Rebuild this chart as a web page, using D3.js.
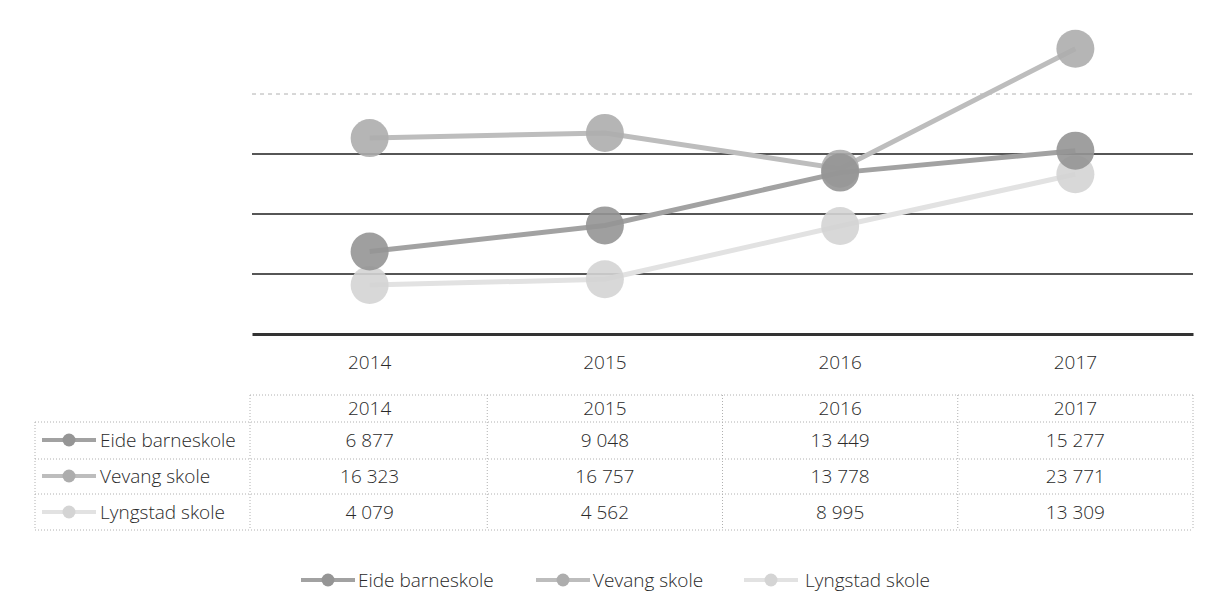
<!DOCTYPE html>
<html>
<head>
<meta charset="utf-8">
<script src="https://cdn.jsdelivr.net/npm/d3@7"></script>
<style>
  body { margin: 0; background: #fff; }
  text { font-family: "Open Sans", sans-serif; font-weight: 300; fill: #2a2a2a; font-size: 19px; }
</style>
</head>
<body>
<div id="chart"></div>
<script>
// data
let years = ["2014", "2015", "2016", "2017"];
let seriesNames = ["Eide barneskole", "Vevang skole", "Lyngstad skole"];
let eide = [6877, 9048, 13449, 15277];
let vevang = [16323, 16757, 13778, 23771];
let lyngstad = [4079, 4562, 8995, 13309];
let gridTicks = [5000, 10000, 15000, 20000];

let seriesValues = [eide, vevang, lyngstad];
let seriesColors = ["#a2a2a2", "#bdbdbd", "#e2e2e2"];
let markerColors = ["#959595", "#adadad", "#d4d4d4"];

let margin = {container_width: 1214, container_height: 609, top: 34, left: 252, plotRight: 1193, plotBottom: 334};

let svg = d3.select("#chart")
    .append("svg")
    .attr("width", margin.container_width)
    .attr("height", margin.container_height);

let x = d3.scaleBand()
    .domain(years)
    .range([margin.left, margin.plotRight]);

let y = d3.scaleLinear()
    .domain([0, 25000])
    .range([margin.plotBottom, margin.top]);

let nb = d3.formatLocale({decimal: ",", thousands: "\u00a0", grouping: [3], currency: ["", " kr"]});
let fmt = nb.format(",d");

// gridlines
svg.append("g")
    .selectAll("line")
    .data(gridTicks)
    .enter()
    .append("line")
    .attr("x1", margin.left)
    .attr("x2", margin.plotRight)
    .attr("y1", d => y(d))
    .attr("y2", d => y(d))
    .attr("stroke", d => d == 20000 ? "#b0b0b0" : "#1e1e1e")
    .attr("stroke-width", d => d == 20000 ? 1 : 1.5)
    .attr("stroke-dasharray", d => d == 20000 ? "4,4" : null);

// x axis
let xAxis = svg.append("g")
    .attr("transform", "translate(0," + margin.plotBottom + ")")
    .call(d3.axisBottom(x).tickSize(0).tickPadding(22));
xAxis.select(".domain").attr("stroke", "#333").attr("stroke-width", 3);
xAxis.selectAll("text")
    .style("font-family", "'Open Sans', sans-serif")
    .style("font-weight", 300)
    .style("font-size", "19px")
    .attr("fill", "#2a2a2a");

let line = d3.line()
    .x((d, i) => x(years[i]) + x.bandwidth() / 2)
    .y(d => y(d));

// lines and markers, drawn back to front
[2, 1, 0].forEach(function(s) {
    svg.append("path")
        .datum(seriesValues[s])
        .attr("fill", "none")
        .attr("stroke", seriesColors[s])
        .attr("stroke-width", 5)
        .attr("d", line);
    svg.append("g")
        .selectAll("circle")
        .data(seriesValues[s])
        .enter()
        .append("circle")
        .attr("cx", (d, i) => x(years[i]) + x.bandwidth() / 2)
        .attr("cy", d => y(d))
        .attr("r", 19)
        .attr("fill", markerColors[s])
        .attr("fill-opacity", 0.9);
});

// data table
let headerTop = 395, rowLines = [422, 459, 494, 530], tableLeft = 35;
let table = svg.append("g");
let colLines = [margin.left - 2].concat(years.map(yr => x(yr) + x.bandwidth()));

table.append("line")
    .attr("x1", margin.left - 2).attr("x2", margin.plotRight)
    .attr("y1", headerTop).attr("y2", headerTop);
table.selectAll(".hline")
    .data(rowLines)
    .enter()
    .append("line")
    .attr("class", "hline")
    .attr("x1", tableLeft).attr("x2", margin.plotRight)
    .attr("y1", d => d).attr("y2", d => d);
table.selectAll(".vline")
    .data(colLines)
    .enter()
    .append("line")
    .attr("class", "vline")
    .attr("x1", d => d).attr("x2", d => d)
    .attr("y1", headerTop).attr("y2", rowLines[3]);
table.append("line")
    .attr("x1", tableLeft).attr("x2", tableLeft)
    .attr("y1", rowLines[0]).attr("y2", rowLines[3]);
table.selectAll("line")
    .attr("stroke", "#b0b0b0")
    .attr("stroke-width", 1)
    .attr("stroke-dasharray", "1,2");

table.selectAll(".head")
    .data(years)
    .enter()
    .append("text")
    .attr("x", d => x(d) + x.bandwidth() / 2)
    .attr("y", 408)
    .attr("dy", "0.35em")
    .attr("text-anchor", "middle")
    .text(d => d);

let rowMid = [440, 476, 512];

function legendKey(g, s, cx, cy) {
    g.append("line")
        .attr("x1", cx - 27).attr("x2", cx + 27)
        .attr("y1", cy).attr("y2", cy)
        .attr("stroke", seriesColors[s])
        .attr("stroke-width", 4);
    g.append("circle")
        .attr("cx", cx).attr("cy", cy)
        .attr("r", 6.5)
        .attr("fill", markerColors[s]);
}

seriesNames.forEach(function(name, s) {
    legendKey(table, s, 69, rowMid[s]);
    table.append("text")
        .attr("x", 100)
        .attr("y", rowMid[s])
        .attr("dy", "0.35em")
        .text(name);
    table.selectAll(".v" + s)
        .data(seriesValues[s])
        .enter()
        .append("text")
        .attr("x", (d, i) => x(years[i]) + x.bandwidth() / 2)
        .attr("y", rowMid[s])
        .attr("dy", "0.35em")
        .attr("text-anchor", "middle")
        .text(d => fmt(d));
});

// legend
let legendKeyX = [328, 563, 771];
let legendTextX = [358, 593, 805];
let legend = svg.append("g");
seriesNames.forEach(function(name, s) {
    legendKey(legend, s, legendKeyX[s], 580);
    legend.append("text")
        .attr("x", legendTextX[s])
        .attr("y", 580)
        .attr("dy", "0.35em")
        .text(name);
});
</script>
</body>
</html>
